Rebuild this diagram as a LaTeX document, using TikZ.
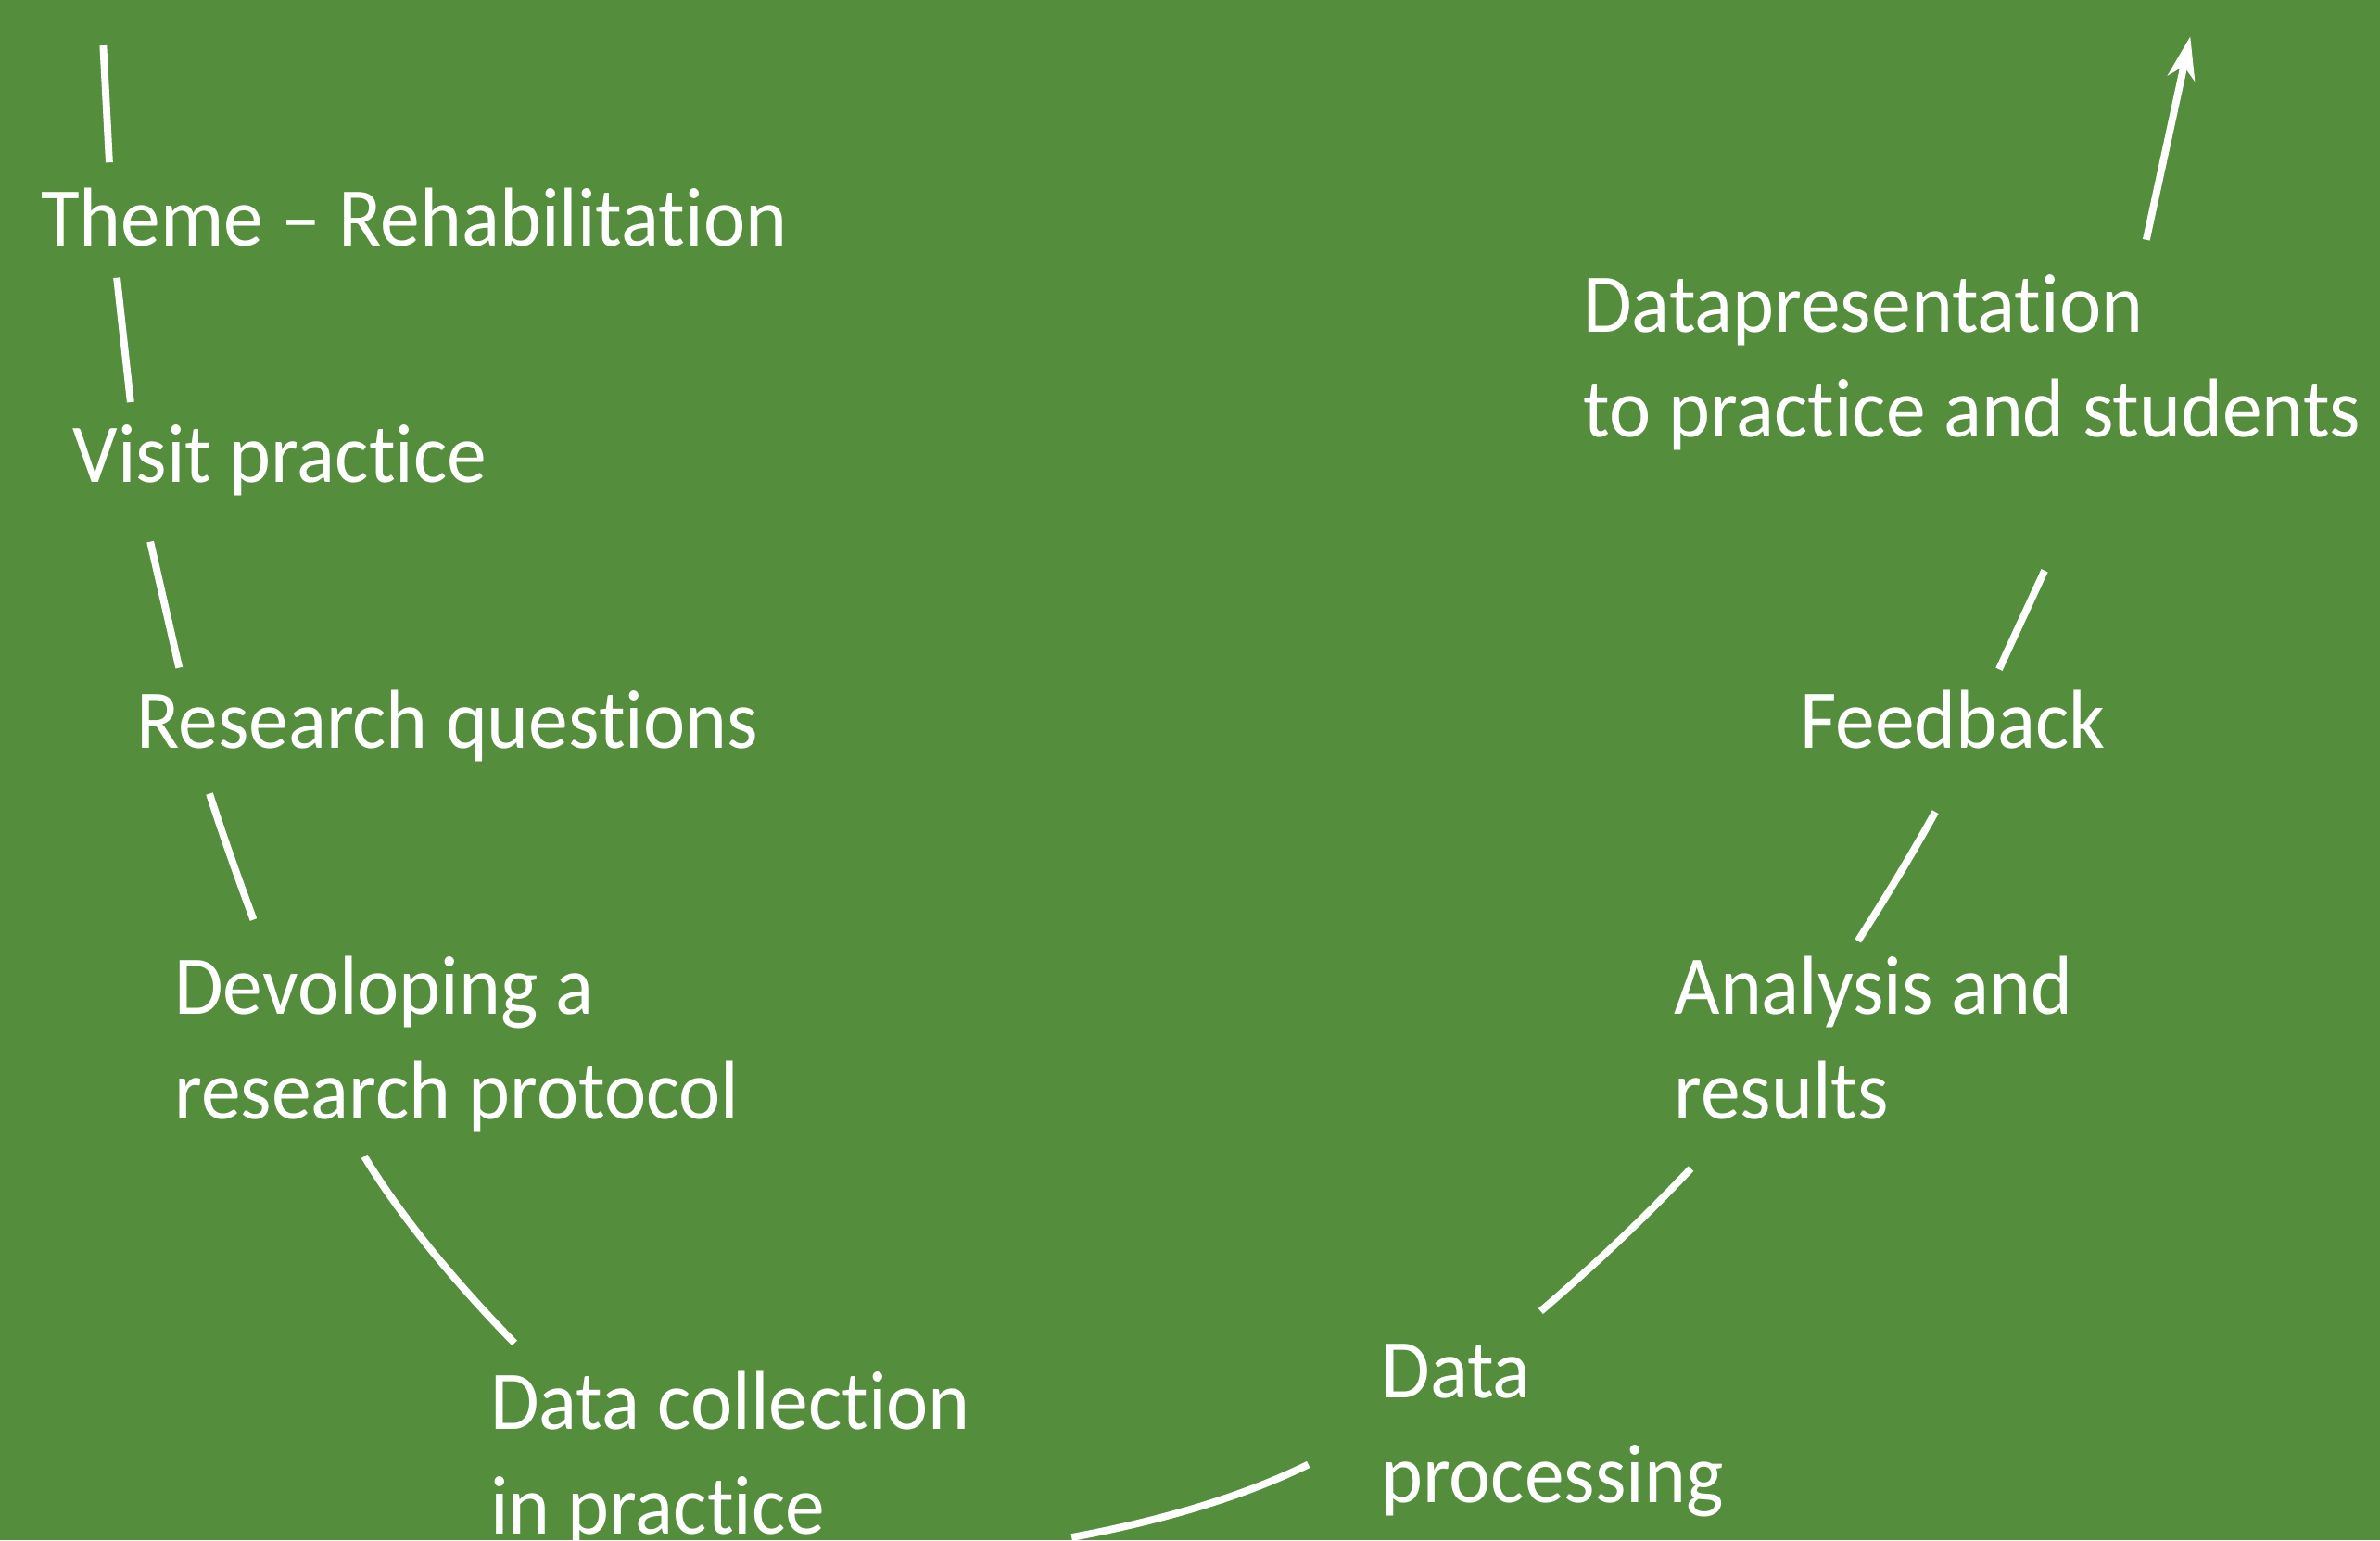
\documentclass[tikz,border=0pt]{standalone}
\usepackage{fontspec}
\setmainfont{Carlito}[FakeStretch=0.95,Ligatures=NoCommon]
\usetikzlibrary{arrows.meta}
\definecolor{bg}{RGB}{84,141,60}
\begin{document}
\begin{tikzpicture}[x=0.5pt,y=-0.5pt,
  lbl/.style={anchor=base west,inner sep=0pt,outer sep=0pt,text=white,
    font=\fontsize{27.5}{34.5}\selectfont,align=left},
  conn/.style={draw=white,line width=2.4pt}]
\fill[bg] (0,0) rectangle (1568,1015);
\useasboundingbox (0,0) rectangle (1568,1015);
% labels (base anchor = baseline of the last line)
\node[lbl] (theme) at (27,162) {Theme – Rehabilitation};
\node[lbl] (visit) at (48,318) {Visit practice};
\node[lbl] (rq) at (90,493) {Research questions};
\node[lbl] (dev) at (115,737) {Devoloping a\\research protocol};
\node[lbl] (coll) at (323,1011) {Data collection\\in practice};
\node[lbl] (proc) at (910,990) {Data\\processing};
\node[lbl] (ana) at (1103,737) {Analysis and\\results};
\node[lbl] (feed) at (1186,493) {Feedback};
\node[lbl] (pres) at (1043,288) {Datapresentation\\to practice and students};
% connector ends
\coordinate (s0) at (68,30);
\coordinate (e0) at (72,107);
\coordinate (s1) at (77,183);
\coordinate (e1) at (86,265);
\coordinate (s2) at (99,357);
\coordinate (e2) at (118,440);
\coordinate (s3) at (138,523);
\coordinate (e3) at (167,606);
\coordinate (s4) at (240,762);
\coordinate (e4) at (339,885);
\coordinate (s5) at (706,1013);
\coordinate (e5) at (862,965);
\coordinate (s6) at (1015,864);
\coordinate (e6) at (1114,770);
\coordinate (s7) at (1224,620);
\coordinate (e7) at (1275,535);
\coordinate (s8) at (1317,441);
\coordinate (e8) at (1347,376);
\coordinate (s9) at (1414,158);
\coordinate (e9) at (1443,24);
\draw[conn] (s0) -- (e0);
\draw[conn] (s1) -- (e1);
\draw[conn] (s2) -- (e2);
\draw[conn] (s3) .. controls (147,551) and (157,579) .. (e3);
\draw[conn] (s4) .. controls (265,803) and (300,845) .. (e4);
\draw[conn] (s5) .. controls (760,1003) and (815,988) .. (e5);
\draw[conn] (s6) .. controls (1050,834) and (1083,803) .. (e6);
\draw[conn] (s7) .. controls (1242,592) and (1259,564) .. (e7);
\draw[conn] (s8) -- (e8);
\draw[conn,-{Stealth[length=14pt,width=9pt,inset=4pt]}] (s9) -- (e9);
\end{tikzpicture}
\end{document}
